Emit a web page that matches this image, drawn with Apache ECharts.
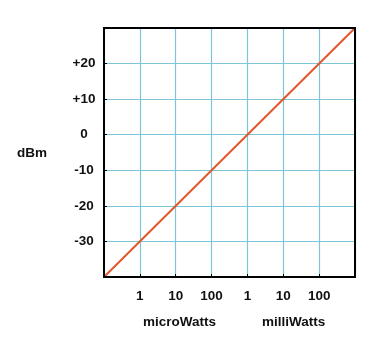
<!DOCTYPE html>
<html>
<head>
<meta charset="utf-8">
<script src="https://cdn.jsdelivr.net/npm/echarts@6/dist/echarts.min.js"></script>
<style>html,body{margin:0;padding:0;background:#fff;}#c{width:374px;height:360px;}</style>
</head>
<body>
<div id="c"></div>
<script>
// Data
var dbmValues = [-40, 30];          // x positions (dBm scale)
var lineValues = [-40, 30];         // y values (dBm)
var xTickValues = [-30, -20, -10, 0, 10, 20];
var xTickLabels = ['1', '10', '100', '1', '10', '100'];
var yTickValues = [-30, -20, -10, 0, 10, 20];
var yTickLabels = ['-30', '-20', '-10', '0', '+10', '+20'];
var unitNames = ['microWatts', 'milliWatts'];
var yName = 'dBm';

var font = '"Liberation Sans", Arial, Helvetica, sans-serif';
function lookup(vals, labs, v) {
  var i = vals.indexOf(Math.round(v));
  return i >= 0 ? labs[i] : '';
}
var chart = echarts.init(document.getElementById('c'), null, {renderer: 'canvas'});
var gridColor = '#7cc6d8';
chart.setOption({
  animation: false,
  backgroundColor: '#fff',
  grid: {left: 104, right: 19, top: 28, bottom: 83, show: true, borderColor: '#000', borderWidth: 2, z: 3},
  xAxis: {
    type: 'value', min: -40, max: 30, interval: 10,
    axisLine: {show: true, onZero: false, lineStyle: {color: '#000', width: 2}},
    axisTick: {show: true, inside: true, length: 3, lineStyle: {color: '#000', width: 1}},
    splitLine: {show: true, lineStyle: {color: gridColor, width: 1.2}},
    axisLabel: {
      margin: 12, color: '#111', fontFamily: font, fontWeight: 'bold', fontSize: 13.5,
      showMinLabel: false, showMaxLabel: false,
      formatter: function (v) { return lookup(xTickValues, xTickLabels, v); }
    }
  },
  yAxis: {
    type: 'value', min: -40, max: 30, interval: 10,
    axisLine: {show: true, onZero: false, lineStyle: {color: '#000', width: 2}},
    axisTick: {show: true, inside: true, length: 3, lineStyle: {color: '#000', width: 1}},
    splitLine: {show: true, lineStyle: {color: gridColor, width: 1.2}},
    axisLabel: {
      margin: 20, align: 'center', color: '#111', fontFamily: font, fontWeight: 'bold', fontSize: 13.5,
      showMinLabel: false, showMaxLabel: false,
      formatter: function (v) { return lookup(yTickValues, yTickLabels, v); }
    }
  },
  series: [{
    type: 'line',
    data: dbmValues.map(function (x, i) { return [x, lineValues[i]]; }),
    symbol: 'none',
    lineStyle: {color: '#e2572b', width: 2},
    z: 2
  }],
  graphic: [
    {type: 'text', left: 143, top: 315, style: {text: unitNames[0], font: 'bold 13.5px ' + font, fill: '#111'}},
    {type: 'text', left: 262, top: 315, style: {text: unitNames[1], font: 'bold 13.5px ' + font, fill: '#111'}},
    {type: 'text', left: 17, top: 146, style: {text: yName, font: 'bold 13.5px ' + font, fill: '#111'}}
  ]
});
</script>
</body>
</html>
